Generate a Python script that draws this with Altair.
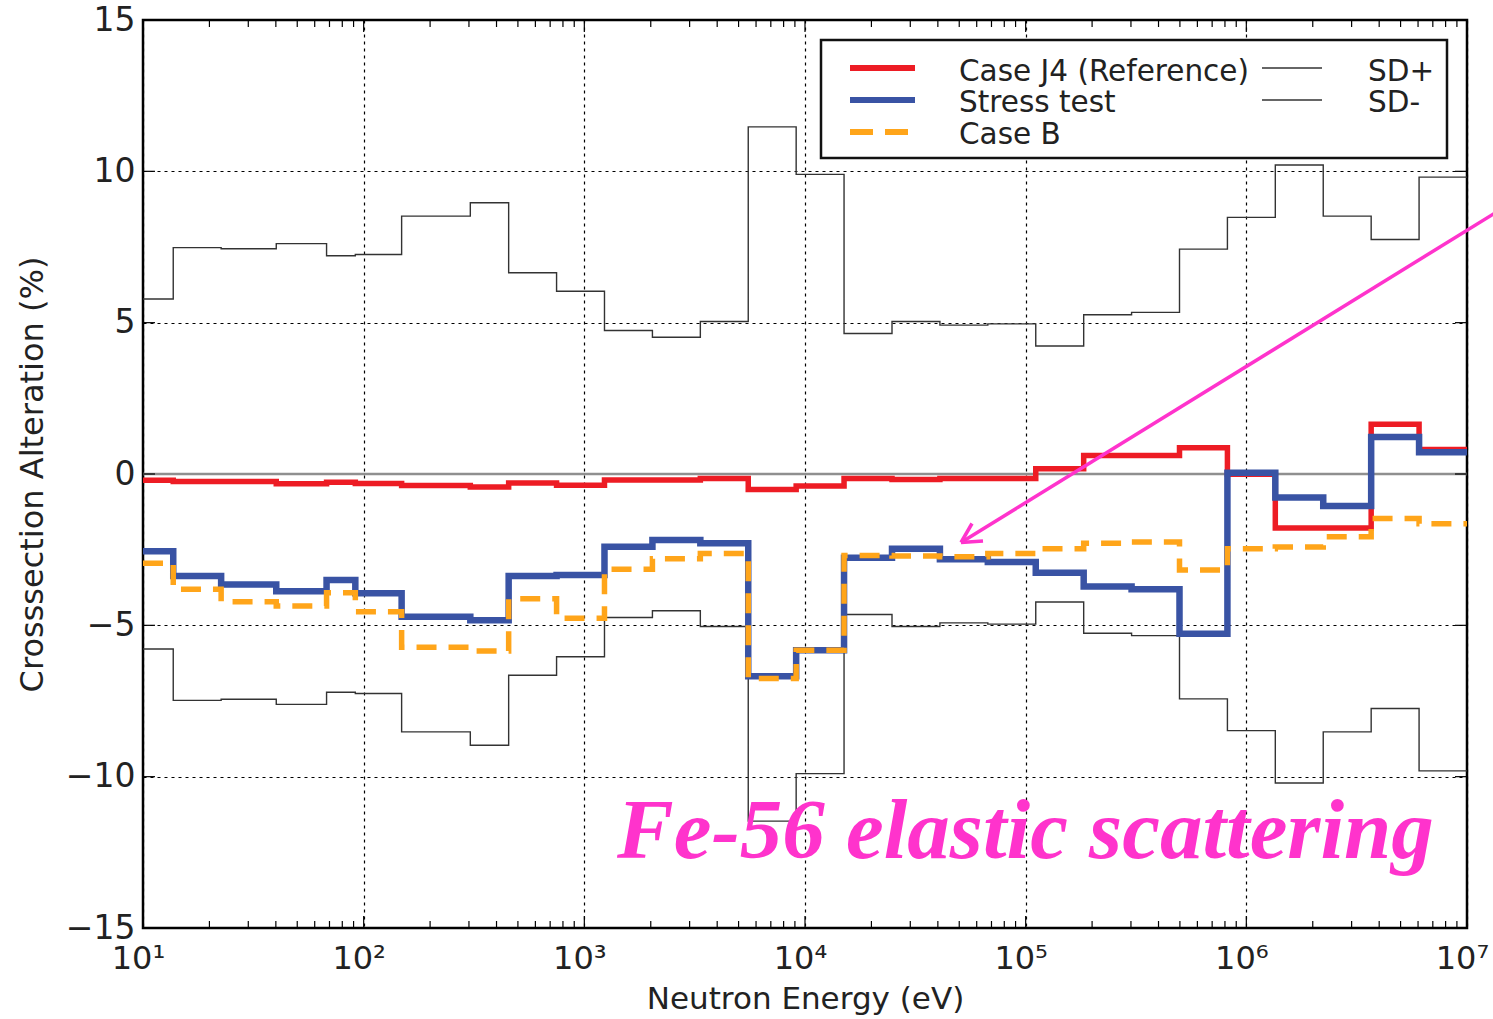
import altair as alt
import pandas as pd

# ECCO-33 style group boundaries (eV), read from the step positions
edges = [10, 13.71, 22.60, 40.17, 67.90, 91.66, 148.6, 304.3, 454.0, 748.5,
         1234, 2035, 3355, 5531, 9119, 15030, 24790, 40870, 67380, 111100,
         183200, 302000, 497900, 820900, 1353000, 2231000, 3679000, 6065000, 10000000]

sd_plus = [5.78, 7.48, 7.44, 7.61, 7.21, 7.25, 8.52, 8.96, 6.65, 6.04,
           4.74, 4.52, 5.04, 11.47, 9.90, 4.64, 5.04, 4.92, 4.96, 4.23,
           5.26, 5.34, 7.43, 8.48, 10.21, 8.52, 7.75, 9.81]
sd_minus = [-5.78, -7.48, -7.44, -7.61, -7.21, -7.25, -8.52, -8.96, -6.65, -6.04,
            -4.74, -4.52, -5.04, -11.47, -9.90, -4.64, -5.04, -4.92, -4.96, -4.23,
            -5.26, -5.34, -7.43, -8.48, -10.21, -8.52, -7.75, -9.81]
case_j4 = [-0.21, -0.25, -0.25, -0.32, -0.27, -0.31, -0.38, -0.43, -0.30, -0.37,
           -0.20, -0.20, -0.15, -0.51, -0.40, -0.15, -0.18, -0.15, -0.15, 0.17,
           0.61, 0.61, 0.87, -0.01, -1.78, -1.78, 1.64, 0.81]
stress_test = [-2.55, -3.37, -3.65, -3.87, -3.50, -3.94, -4.72, -4.83, -3.37, -3.34,
               -2.40, -2.18, -2.29, -6.68, -5.82, -2.77, -2.47, -2.82, -2.91, -3.26,
               -3.72, -3.81, -5.28, 0.04, -0.78, -1.06, 1.22, 0.72]
case_b = [-2.95, -3.81, -4.22, -4.36, -3.92, -4.55, -5.72, -5.85, -4.12, -4.77,
          -3.15, -2.80, -2.63, -6.76, -5.82, -2.69, -2.71, -2.73, -2.63, -2.47,
          -2.29, -2.25, -3.17, -2.47, -2.41, -2.07, -1.47, -1.64]

x_major = [10, 100, 1000, 10000, 100000, 1000000, 10000000]
x_tick_labels = ["10¹", "10²", "10³", "10⁴", "10⁵", "10⁶", "10⁷"]
minor_mult = [2, 3, 4, 5, 6, 7, 8, 9]
decades = [10, 100, 1000, 10000, 100000, 1000000]
y_major = [-15, -10, -5, 0, 5, 10, 15]

legend_left = ["Case J4 (Reference)", "Stress test", "Case B"]
legend_right = ["SD+", "SD-"]
annotation = "Fe-56 elastic scattering"

RED = "#ED1C24"
BLUE = "#3953A4"
ORANGE = "#FFA51A"
PINK = "#FF33CC"
FONT = "DejaVu Sans"


def step_df(values):
    rows = [{"E": edges[i], "v": values[i]} for i in range(len(values))]
    rows.append({"E": edges[-1], "v": values[-1]})
    return pd.DataFrame(rows)


xscale = alt.Scale(type="log", domain=[10, 1e7], nice=False)
yscale = alt.Scale(domain=[-15, 15], nice=False)

label_expr = "[" + ",".join("'" + s + "'" for s in x_tick_labels) + "][round(log(datum.value)/LN10)-1]"

x_enc = alt.X("E:Q", scale=xscale,
              axis=alt.Axis(values=x_major, labelExpr=label_expr, title="Neutron Energy (eV)",
                            grid=True, gridDash=[3, 4], gridColor="black", gridWidth=1.2,
                            ticks=False, domain=False, labelPadding=15, titlePadding=10,
                            labelOffset=-5, labelFlush=False, labelFontSize=32,
                            titleFontSize=31))
y_enc = alt.Y("v:Q", scale=yscale,
              axis=alt.Axis(values=y_major, title="Crosssection Alteration (%)",
                            grid=True, gridDash=[3, 4], gridColor="black", gridWidth=1.2,
                            ticks=False, domain=False, labelPadding=8, titlePadding=16))


def step_line(values, color, width, dash=None):
    kw = dict(interpolate="step-after", color=color, strokeWidth=width, strokeJoin="miter")
    if dash is not None:
        kw["strokeDash"] = dash
    return alt.Chart(step_df(values)).mark_line(**kw).encode(
        x=alt.X("E:Q", scale=xscale), y=alt.Y("v:Q", scale=yscale))


base = alt.Chart(step_df(case_j4)).mark_line(opacity=0).encode(x=x_enc, y=y_enc)

zero = alt.Chart(pd.DataFrame({"v": [0]})).mark_rule(color="#8f8f8f", strokeWidth=2.6).encode(
    y=alt.Y("v:Q", scale=yscale))

sdp = step_line(sd_plus, "#333333", 1.4)
sdm = step_line(sd_minus, "#333333", 1.4)
red = step_line(case_j4, RED, 5.5)
blue = step_line(stress_test, BLUE, 6.5)
orange = step_line(case_b, ORANGE, 5.5, dash=[20, 12])

# minor / major ticks (inward)
minor_vals = [m * d for d in decades for m in minor_mult]
minor_df = pd.DataFrame({"E": minor_vals})
minor_bot = alt.Chart(minor_df).mark_rule(color="black", strokeWidth=1.2).encode(
    x=alt.X("E:Q", scale=xscale), y=alt.value(901), y2=alt.value(908))
minor_top = alt.Chart(minor_df).mark_rule(color="black", strokeWidth=1.2).encode(
    x=alt.X("E:Q", scale=xscale), y=alt.value(0), y2=alt.value(7))
major_df = pd.DataFrame({"E": x_major})
major_bot = alt.Chart(major_df).mark_rule(color="black", strokeWidth=1.2).encode(
    x=alt.X("E:Q", scale=xscale), y=alt.value(896), y2=alt.value(908))
major_top = alt.Chart(major_df).mark_rule(color="black", strokeWidth=1.2).encode(
    x=alt.X("E:Q", scale=xscale), y=alt.value(0), y2=alt.value(12))
ymaj_df = pd.DataFrame({"v": y_major})
ymaj_left = alt.Chart(ymaj_df).mark_rule(color="black", strokeWidth=1.2).encode(
    y=alt.Y("v:Q", scale=yscale), x=alt.value(0), x2=alt.value(12))
ymaj_right = alt.Chart(ymaj_df).mark_rule(color="black", strokeWidth=1.2).encode(
    y=alt.Y("v:Q", scale=yscale), x=alt.value(1312), x2=alt.value(1324))

# legend (drawn by hand)
one = pd.DataFrame({"a": [0]})
leg_box = alt.Chart(one).mark_rect(
    fill="white", stroke="#111111", strokeWidth=2.5).encode(
    x=alt.value(678), x2=alt.value(1304), y=alt.value(20), y2=alt.value(138))
leg_red = alt.Chart(one).mark_rule(color=RED, strokeWidth=6).encode(
    x=alt.value(707), x2=alt.value(772), y=alt.value(48))
leg_blue = alt.Chart(one).mark_rule(color=BLUE, strokeWidth=6).encode(
    x=alt.value(707), x2=alt.value(772), y=alt.value(80))
leg_orange = alt.Chart(one).mark_rule(
    color=ORANGE, strokeWidth=6, strokeDash=[23, 12]).encode(
    x=alt.value(707), x2=alt.value(766), y=alt.value(112))
leg_sdp = alt.Chart(one).mark_rule(color="#333333", strokeWidth=1.4).encode(
    x=alt.value(1119), x2=alt.value(1179), y=alt.value(48))
leg_sdm = alt.Chart(one).mark_rule(color="#333333", strokeWidth=1.4).encode(
    x=alt.value(1119), x2=alt.value(1179), y=alt.value(80))


def leg_text(txt, x, y):
    return alt.Chart(one).mark_text(
        font=FONT, fontSize=29.5, color="#222222", align="left", baseline="middle").encode(
        x=alt.value(x), y=alt.value(y), text=alt.value(txt))


leg_texts = [leg_text(legend_left[0], 816, 52), leg_text(legend_left[1], 816, 83),
             leg_text(legend_left[2], 816, 115),
             leg_text(legend_right[0], 1225, 52), leg_text(legend_right[1], 1225, 83)]

# pink arrow and annotation
arrow_main = alt.Chart(one).mark_rule(color=PINK, strokeWidth=3.5).encode(
    x=alt.value(1352), y=alt.value(193), x2=alt.value(818), y2=alt.value(522.5))
arrow_h1 = alt.Chart(one).mark_rule(color=PINK, strokeWidth=3.5).encode(
    x=alt.value(818), y=alt.value(522.5), x2=alt.value(840), y2=alt.value(521))
arrow_h2 = alt.Chart(one).mark_rule(color=PINK, strokeWidth=3.5).encode(
    x=alt.value(818), y=alt.value(522.5), x2=alt.value(829), y2=alt.value(503.5))
label = alt.Chart(one).mark_text(
    font="Liberation Serif", fontStyle="italic", fontWeight="bold", fontSize=85,
    color=PINK, align="left", baseline="alphabetic").encode(
    x=alt.value(474), y=alt.value(838), text=alt.value(annotation))

chart = alt.layer(
    base, zero, sdp, sdm, red, blue, orange,
    minor_bot, minor_top, major_bot, major_top, ymaj_left, ymaj_right,
    leg_box, leg_red, leg_blue, leg_orange, leg_sdp, leg_sdm, *leg_texts,
    label, arrow_main, arrow_h1, arrow_h2,
).properties(
    width=1324, height=908,
    padding={"left": 143, "top": 20, "right": 26, "bottom": 91},
    autosize=alt.AutoSizeParams(type="none"),
    background="white",
).configure_view(
    stroke="black", strokeWidth=2.5, fill="white"
).configure_axis(
    labelFont=FONT, labelFontSize=33, labelColor="#222222",
    titleFont=FONT, titleFontSize=32, titleFontWeight="normal", titleColor="#222222",
)

chart.save("out.html", embed_options={"renderer": "svg", "actions": False})
